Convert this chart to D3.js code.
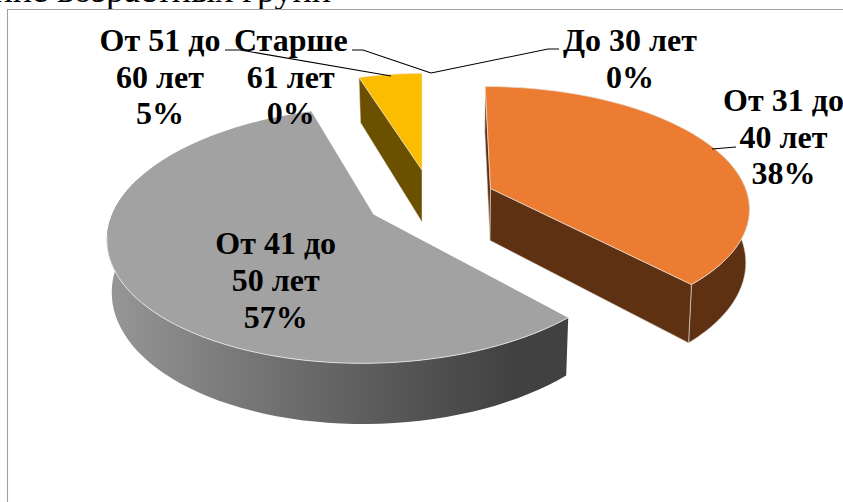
<!DOCTYPE html>
<html>
<head>
<meta charset="utf-8">
<script src="https://cdn.jsdelivr.net/npm/d3@7"></script>
<style>
  html, body { margin: 0; padding: 0; background: #fff; }
  svg { display: block; }
  text { font-family: "Liberation Serif", serif; fill: #000; }
</style>
</head>
<body>
<svg id="chart" width="843" height="502"></svg>
<script>
// values
const categories = ["До 30 лет", "От 31 до 40 лет", "От 41 до 50 лет", "От 51 до 60 лет", "Старше 61 лет"]
const percents = [0, 38, 57, 5, 0]
const labelLines = [
    ["До 30 лет", "0%"],
    ["От 31 до", "40 лет", "38%"],
    ["От 41 до", "50 лет", "57%"],
    ["От 51 до", "60 лет", "5%"],
    ["Старше", "61 лет", "0%"]
]
const topColors = ["#5B9BD5", "#EB7C31", "#A2A2A2", "#FCBD00", "#4472C4"]
const sideColors = ["#2c4d6a", "#5e3113", "#000", "#6b5000", "#223960"]

const width = 843, height = 502
const svg = d3.select("#chart")

// where each exploded slice sits on the page, and how the perspective treats it
const placement = {
    1: {cx: 490.5, cy: 188.5, rx: 255, ry: 117.3, tilt: 0.15, vx: 450, depth: 52, shrink: 0.988},
    2: {cx: 373.5, cy: 214.5, rx: 261.5, ry: 125, tilt: 0.16, vx: 433.5, depth: 51, shrink: 0.985},
    3: {cx: 422, cy: 170, rx: 235, ry: 112, tilt: 0.16, vx: 422, depth: 52, shrink: 0.975}
}

const pie = d3.pie().sort(null).value(d => d)
const slices = pie(percents)

function project(p, angle, r, bottom) {
    const w = 1 + p.tilt * r * Math.cos(angle)
    const off = p.cx - p.vx
    let x = (p.rx * r * Math.sin(angle) + off) / w - off + p.cx
    let y = p.cy - p.ry * r * Math.cos(angle) / w
    if (bottom) {
        x = p.vx + (x - p.vx) * p.shrink
        y += p.depth / w
    }
    return [x, y]
}

function arcPoints(p, a0, a1, bottom) {
    return d3.range(0, 61).map(i => project(p, a0 + (a1 - a0) * i / 60, 1, bottom))
}

const line = d3.line()
const wall = (p, a0, a1) => line(arcPoints(p, a0, a1, false).concat(arcPoints(p, a1, a0, true))) + "Z"
const cutFace = (p, a) => line([project(p, a, 0, false), project(p, a, 1, false), project(p, a, 1, true), project(p, a, 0, true)]) + "Z"
const topFace = (p, a0, a1) => line([project(p, a0, 0, false)].concat(arcPoints(p, a0, a1, false))) + "Z"

const defs = svg.append("defs")
const grad = defs.append("linearGradient").attr("id", "grayWall")
    .attr("gradientUnits", "userSpaceOnUse").attr("x1", 107).attr("x2", 568).attr("y1", 0).attr("y2", 0)
grad.selectAll("stop")
    .data([[0, "#979797"], [0.3, "#777777"], [0.62, "#585858"], [0.88, "#414141"], [1, "#414141"]])
    .join("stop")
    .attr("offset", d => d[0])
    .attr("stop-color", d => d[1])

// cropped line of the document above the chart
svg.append("text").attr("x", 331).attr("y", 2)
    .attr("text-anchor", "end")
    .style("font-size", "36px")
    .text("ние возрастных групп")

// chart frame, cut by the picture
svg.append("path").attr("d", `M7.5 ${height}V9.5H${width}`)
    .attr("fill", "none").attr("stroke", "#a0a0a0").attr("stroke-width", 1.1)

const edge = "#e9e2da"
const g = svg.append("g")

// orange
const po = placement[1], so = slices[1]
g.append("path").attr("d", cutFace(po, so.startAngle)).attr("fill", sideColors[1]).attr("stroke", edge).attr("stroke-width", 0.6)
g.append("path").attr("d", wall(po, 1.3, so.endAngle)).attr("fill", sideColors[1]).attr("stroke", edge).attr("stroke-width", 0.6)
g.append("path").attr("d", cutFace(po, so.endAngle)).attr("fill", sideColors[1]).attr("stroke", edge).attr("stroke-width", 0.6)
g.append("path").attr("d", topFace(po, so.startAngle, so.endAngle)).attr("fill", topColors[1]).attr("stroke", edge).attr("stroke-width", 0.7)

// yellow
const py = placement[3], sy = slices[3]
g.append("path").attr("d", cutFace(py, sy.startAngle)).attr("fill", sideColors[3]).attr("stroke", edge).attr("stroke-width", 0.5)
g.append("path").attr("d", topFace(py, sy.startAngle, sy.endAngle)).attr("fill", topColors[3]).attr("stroke", edge).attr("stroke-width", 0.6)

// gray
const pg = placement[2], sg = slices[2]
g.append("path").attr("d", wall(pg, sg.startAngle, 5.0)).attr("fill", "url(#grayWall)")
g.append("path").attr("d", topFace(pg, sg.startAngle, sg.endAngle)).attr("fill", topColors[2])
g.append("path").attr("d", line(arcPoints(pg, sg.startAngle, 4.55, false))).attr("fill", "none").attr("stroke", edge).attr("stroke-width", 0.9)

// leader lines
const leaders = [
    [[225, 50], [240, 50], [391, 76]],
    [[352, 50], [363, 50], [431, 73]],
    [[431, 73], [548, 49], [559, 49]],
    [[712, 149], [736, 147]]
]
svg.append("g").selectAll("path").data(leaders).join("path")
    .attr("d", d => line(d)).attr("fill", "none").attr("stroke", "#000").attr("stroke-width", 1.1)

// labels
const labelSpots = [[630, 50.7], [783.5, 110.7], [275.7, 254], [160, 50.7], [290.8, 50.7]]
const lineStep = 36.9
svg.append("g").selectAll("text").data(labelLines).join("text")
    .attr("text-anchor", "middle")
    .attr("font-weight", "bold")
    .style("font-size", "32px")
    .attr("transform", (d, i) => `translate(${labelSpots[i]})`)
    .selectAll("tspan").data(d => d).join("tspan")
    .attr("x", 0)
    .attr("y", (d, i) => i * lineStep)
    .text(d => d)
</script>
</body>
</html>
